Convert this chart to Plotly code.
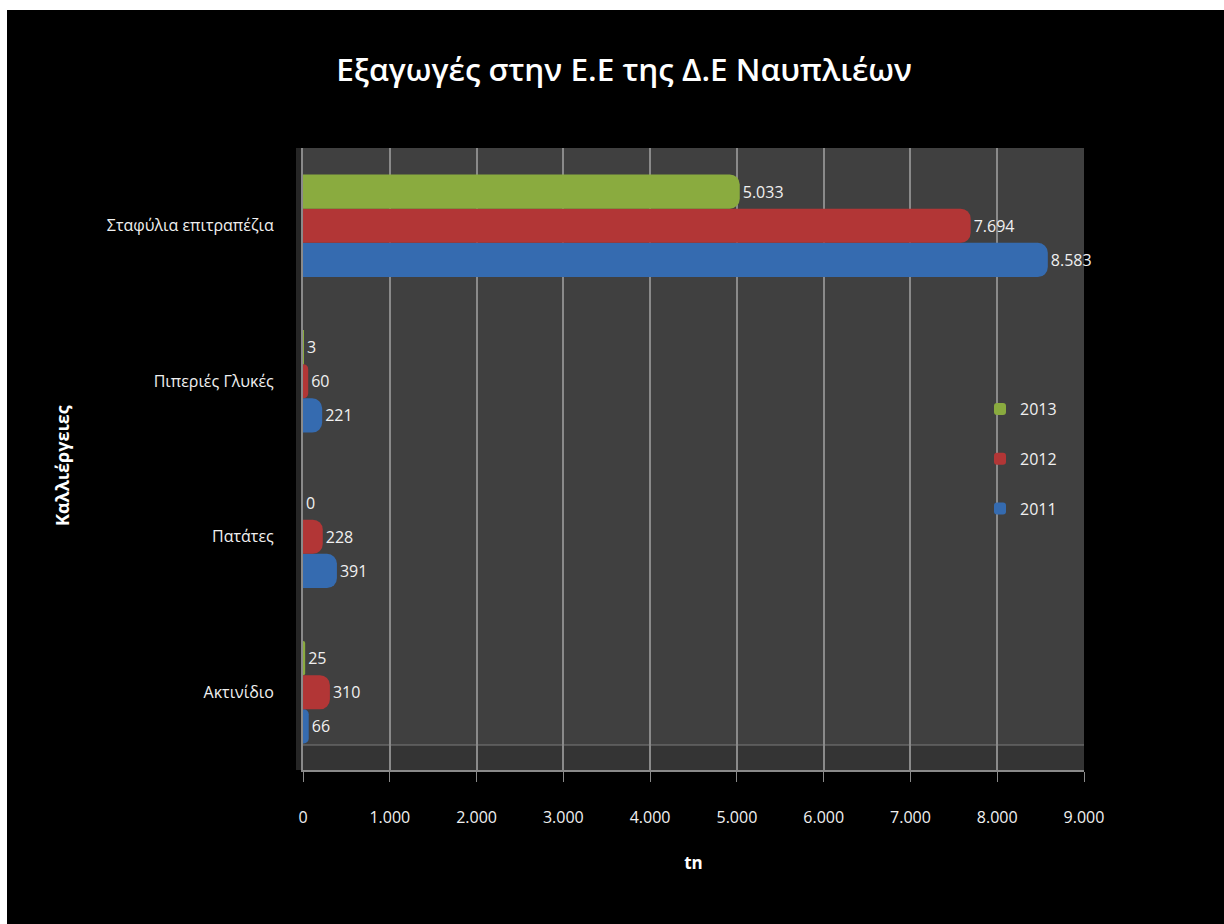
import plotly.graph_objects as go

categories = ["Ακτινίδιο", "Πατάτες", "Πιπεριές Γλυκές", "Σταφύλια επιτραπέζια"]
years = ["2011", "2012", "2013"]
values_2011 = [66, 391, 221, 8583]
values_2012 = [310, 228, 60, 7694]
values_2013 = [25, 0, 3, 5033]
series = [values_2011, values_2012, values_2013]
colors = ["#356bb0", "#b23636", "#8aab3f"]
tick_vals = [0, 1000, 2000, 3000, 4000, 5000, 6000, 7000, 8000, 9000]

W, H = 1224, 924
L, R, T, B = 303, 1084, 148, 770

FONT = "Open Sans"
fig = go.Figure()
for i, (name, vals, col) in enumerate(zip(years, series, colors)):
    fig.add_trace(go.Bar(
        y=categories, x=vals, name=name, orientation="h",
        marker=dict(color=col, line=dict(width=0), cornerradius=10),
        texttemplate="%{x:,}", textposition="outside",
        textfont=dict(color="#f0f0f0", size=16, family=FONT),
        cliponaxis=False, legendgroup=name, legendrank=1000 - i,
    ))

# floor (3D look)
py = lambda px: (B - px) / (B - T)
px_ = lambda x: (x - L) / (R - L)
fig.add_shape(type="rect", xref="paper", yref="paper", x0=0, x1=1, y0=0, y1=py(745),
              fillcolor="#343434", line=dict(width=0), layer="below")
fig.add_shape(type="line", xref="paper", yref="paper", x0=0, x1=1, y0=py(745), y1=py(745),
              line=dict(color="#7a7a7a", width=1), layer="below")
fig.add_shape(type="rect", xref="paper", yref="paper", x0=px_(296), x1=0, y0=0, y1=1,
              fillcolor="#262626", line=dict(width=0), layer="below")

fig.update_layout(
    width=W, height=H,
    paper_bgcolor="black", plot_bgcolor="#404040",
    margin=dict(l=L, r=W - R, t=T, b=H - B),
    separators=",.",
    barmode="group", bargap=0.34, bargroupgap=0,
    title=dict(text="Εξαγωγές στην Ε.Ε της Δ.Ε Ναυπλιέων", x=624 / W, xanchor="center",
               y=1 - 70 / H, yanchor="middle",
               font=dict(family=FONT, size=31.5, color="white", weight=600)),
    font=dict(family=FONT, color="#f0f0f0", size=16),
    xaxis=dict(range=[0, 9000], tickvals=tick_vals, tickformat=",",
               showgrid=True, gridcolor="#8a8a8a", gridwidth=1.5,
               zeroline=False, showline=True, linecolor="#8a8a8a", linewidth=2,
               ticks="outside", ticklen=10, tickcolor="#8a8a8a",
               ticklabelstandoff=22,
               tickfont=dict(size=16, color="#f0f0f0", family=FONT),
               title=dict(text="tn", standoff=30,
                          font=dict(size=17, color="white", weight="bold", family=FONT))),
    yaxis=dict(showgrid=False, zeroline=False, showline=True, linecolor="#8a8a8a", linewidth=2,
               ticks="", ticklabelstandoff=24,
               tickfont=dict(size=16, color="#f0f0f0", family=FONT)),
    legend=dict(x=px_(980), y=py(392), xanchor="left", yanchor="top",
                bgcolor="rgba(0,0,0,0)", traceorder="grouped", tracegroupgap=26,
                font=dict(size=16, color="#f0f0f0", family=FONT),
                itemwidth=30),
    showlegend=True,
)
fig.layout.yaxis.automargin = False
fig.layout.xaxis.automargin = False

fig.add_annotation(text="Καλλιέργειες", textangle=-90, xref="paper", yref="paper",
                   x=px_(62), y=py(466), xanchor="center", yanchor="middle", showarrow=False,
                   font=dict(size=18, color="white", weight="bold", family=FONT))

# white page border (top and left)
fig.add_shape(type="rect", xref="paper", yref="paper",
              x0=-L / (R - L) - 0.01, x1=(W - L) / (R - L) + 0.01,
              y0=(B - 10) / (B - T), y1=(B + 5) / (B - T),
              fillcolor="white", line=dict(width=0), layer="above")
fig.add_shape(type="rect", xref="paper", yref="paper",
              x0=-L / (R - L) - 0.01, x1=(7 - L) / (R - L),
              y0=-(H - B) / (B - T) - 0.01, y1=(B + 5) / (B - T),
              fillcolor="white", line=dict(width=0), layer="above")

fig.write_html("out.html")
